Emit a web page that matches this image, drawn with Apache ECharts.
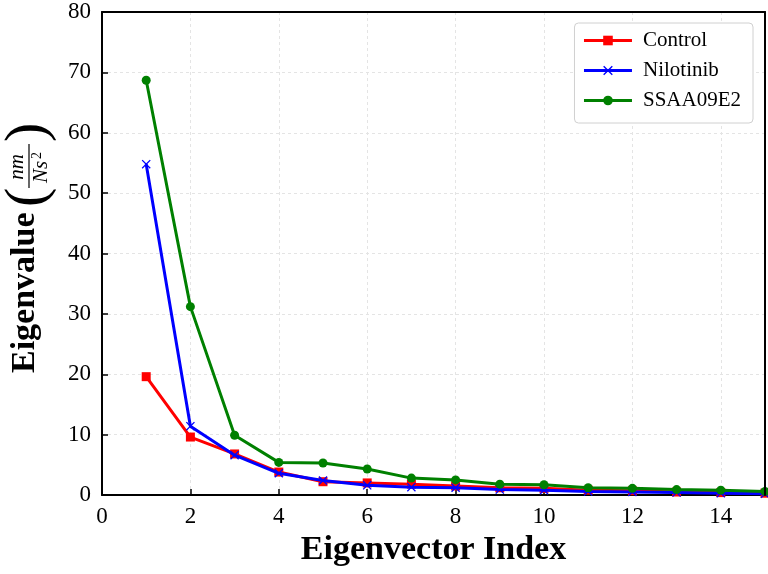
<!DOCTYPE html>
<html>
<head>
<meta charset="utf-8">
<script src="https://cdn.jsdelivr.net/npm/echarts@6/dist/echarts.min.js"></script>
<style>
html,body{margin:0;padding:0;background:#fff;}
#chart{width:768px;height:574px;}
</style>
</head>
<body>
<div id="chart"></div>
<script>
const indices = [1,2,3,4,5,6,7,8,9,10,11,12,13,14,15];
const control = [19.6,9.6,6.8,3.8,2.2,2.0,1.8,1.5,1.2,1.1,0.8,0.7,0.5,0.4,0.3];
const nilotinib = [54.8,11.4,6.6,3.6,2.4,1.6,1.3,1.2,0.9,0.8,0.6,0.5,0.4,0.3,0.2];
const ssaa = [68.7,31.2,9.9,5.4,5.3,4.3,2.8,2.5,1.8,1.7,1.2,1.1,0.9,0.8,0.6];
const seriesNames = ['Control','Nilotinib','SSAA09E2'];
const xTitle = 'Eigenvector Index';
const yTitle = 'Eigenvalue';

const FONT = '"Liberation Serif", "DejaVu Serif", serif';
const xSymbol = 'path://M0,1L1,0L5,4L9,0L10,1L6,5L10,9L9,10L5,6L1,10L0,9L4,5Z';

function pairs(vals){ return indices.map((x,i)=>[x, vals[i]]); }

const chart = echarts.init(document.getElementById('chart'), null, {renderer:'canvas'});
const gridLeft = 102, gridTop = 12, gridRight = 3, gridBottom = 79;

const frameAxis = {
  axisLine: {show: true, onZero: false, lineStyle: {color: '#000', width: 2}},
  axisTick: {show: false}, axisLabel: {show: false}, splitLine: {show: false}
};

const option = {
  animation: false,
  backgroundColor: '#fff',
  grid: {left: gridLeft, top: gridTop, right: gridRight, bottom: gridBottom, containLabel: false},
  legend: {
    orient: 'vertical', right: 15, top: 23,
    padding: [7, 12, 12, 8],
    itemWidth: 48, itemHeight: 12, itemGap: 9,
    borderColor: '#d0d0d0', borderWidth: 1, borderRadius: 4,
    backgroundColor: '#fff',
    lineStyle: {width: 3},
    textStyle: {fontFamily: FONT, fontSize: 21, color: '#000', padding: [0,0,0,6]},
    data: seriesNames
  },
  xAxis: [{
    type: 'value', min: 0, max: 15, interval: 2,
    name: xTitle, nameLocation: 'middle', nameGap: 36,
    nameTextStyle: {fontFamily: FONT, fontSize: 34, fontWeight: 'bold', color: '#000'},
    axisLine: {show: true, onZero: false, lineStyle: {color: '#000', width: 2}},
    axisTick: {show: true, inside: true, length: 6, lineStyle: {color: '#000', width: 1.5}},
    axisLabel: {fontFamily: FONT, fontSize: 23, color: '#000', margin: 10, showMaxLabel: false},
    splitLine: {show: true, lineStyle: {color: '#e4e4e4', type: [3,3], width: 1}},
    z: 1
  }, Object.assign({type: 'value', min: 0, max: 15, position: 'top', z: 10}, frameAxis)],
  yAxis: [{
    type: 'value', min: 0, max: 80, interval: 10,
    axisLine: {show: true, onZero: false, lineStyle: {color: '#000', width: 2}},
    axisTick: {show: true, inside: true, length: 6, lineStyle: {color: '#000', width: 1.5}},
    axisLabel: {fontFamily: FONT, fontSize: 23, color: '#000', margin: 11},
    splitLine: {show: true, lineStyle: {color: '#e4e4e4', type: [3,3], width: 1}},
    z: 1
  }, Object.assign({type: 'value', min: 0, max: 80, position: 'right', z: 10}, frameAxis)],
  graphic: [{
    type: 'group', x: 35, y: 373, rotation: Math.PI/2,
    children: [
      {type: 'text', x: 0, y: 7, style: {text: yTitle, font: 'bold 34px ' + FONT, fill: '#000', textAlign: 'left', textVerticalAlign: 'bottom'}},
      {type: 'text', x: 166, y: -6, style: {text: '(', font: '58px ' + FONT, fill: '#000', textAlign: 'left', textVerticalAlign: 'middle'}},
      {type: 'text', x: 206, y: -7, style: {text: 'nm', font: 'italic 21px ' + FONT, fill: '#000', textAlign: 'center', textVerticalAlign: 'bottom'}},
      {type: 'line', shape: {x1: 185, y1: -6, x2: 229, y2: -6}, style: {stroke: '#000', lineWidth: 1.2}},
      {type: 'text', x: 201, y: -4, style: {text: 'Ns', font: 'italic 21px ' + FONT, fill: '#000', textAlign: 'center', textVerticalAlign: 'top'}},
      {type: 'text', x: 214, y: -5, style: {text: '2', font: '14px ' + FONT, fill: '#000', textAlign: 'left', textVerticalAlign: 'top'}},
      {type: 'text', x: 231, y: -6, style: {text: ')', font: '58px ' + FONT, fill: '#000', textAlign: 'left', textVerticalAlign: 'middle'}}
    ]
  }],
  series: [
    {name: seriesNames[0], type: 'line', data: pairs(control), symbol: 'rect', symbolSize: 9,
     lineStyle: {color: '#ff0000', width: 3}, itemStyle: {color: '#ff0000'}, z: 3},
    {name: seriesNames[1], type: 'line', data: pairs(nilotinib), symbol: xSymbol, symbolSize: 9,
     lineStyle: {color: '#0000ff', width: 3}, itemStyle: {color: '#0000ff'}, z: 4},
    {name: seriesNames[2], type: 'line', data: pairs(ssaa), symbol: 'circle', symbolSize: 9,
     lineStyle: {color: '#008000', width: 3}, itemStyle: {color: '#008000'}, z: 5}
  ]
};
chart.setOption(option);
</script>
</body>
</html>
